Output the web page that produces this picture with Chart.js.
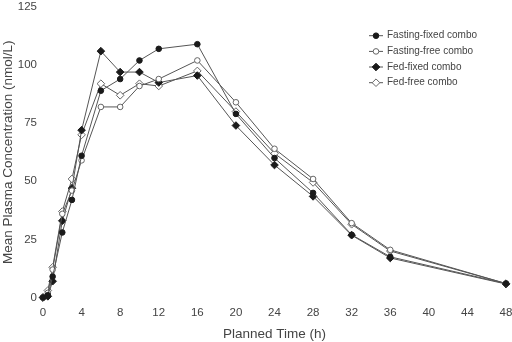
<!DOCTYPE html>
<html>
<head>
<meta charset="utf-8">
<script src="https://cdn.jsdelivr.net/npm/chart.js@4/dist/chart.umd.min.js"></script>
<style>
html,body{margin:0;padding:0;background:#fff;}
#wrap{width:512px;height:342px;}
</style>
</head>
<body>
<div id="wrap"><canvas id="c" width="512" height="342"></canvas></div>
<script>
const times = [0, 0.5, 1, 2, 3, 4, 6, 8, 10, 12, 16, 20, 24, 28, 32, 36, 48];
const fastingFixed = [0, 1, 9, 28, 42, 61, 89, 94, 102, 107, 109, 79, 60, 45, 27, 17.5, 6];
const fastingFree  = [0, 2, 12, 36, 46, 59, 82, 82, 91, 94, 102, 84, 64, 51, 32, 20.5, 6];
const fedFixed     = [0, 0.5, 7, 33, 47, 72, 106, 97, 97, 92.5, 95.5, 74, 57, 43.5, 26.8, 17, 5.8];
const fedFree      = [0, 3, 13, 37, 51, 70, 92, 87, 92, 91, 97.5, 80, 62, 49.5, 31.5, 20, 6];
const seriesNames = ['Fasting-fixed combo', 'Fasting-free combo', 'Fed-fixed combo', 'Fed-free combo'];
const xTicks = [0, 4, 8, 12, 16, 20, 24, 28, 32, 36, 40, 44, 48];
const yTicks = [0, 25, 50, 75, 100, 125];

const lineColor = '#555';
const markColor = '#1a1a1a';
const styles = [
  {pointStyle: 'circle', bg: markColor, r: 2.8},
  {pointStyle: 'circle', bg: '#ffffff', r: 2.8},
  {pointStyle: 'rectRot', bg: markColor, r: 3.8},
  {pointStyle: 'rectRot', bg: '#ffffff', r: 3.8}
];
const seriesData = [fastingFixed, fastingFree, fedFixed, fedFree];
const FONT = '"Liberation Sans", Arial, sans-serif';

const datasets = seriesData.map((vals, i) => ({
  label: seriesNames[i],
  data: times.map((t, j) => ({x: t, y: vals[j]})),
  borderColor: lineColor,
  borderWidth: 1,
  pointStyle: styles[i].pointStyle,
  pointRadius: styles[i].r,
  pointBackgroundColor: styles[i].bg,
  pointBorderColor: i % 2 === 0 ? markColor : '#666',
  pointBorderWidth: 1,
  tension: 0,
  clip: false
}));

const legendPlugin = {
  id: 'customLegend',
  afterDraw(chart) {
    const ctx = chart.ctx;
    const x0 = 369, x1 = 383, tx = 387;
    const ys = [35.7, 51.4, 67, 82.7];
    ctx.save();
    datasets.forEach((ds, i) => {
      const y = ys[i];
      ctx.strokeStyle = lineColor;
      ctx.lineWidth = 1;
      ctx.beginPath();
      ctx.moveTo(x0, y);
      ctx.lineTo(x1, y);
      ctx.stroke();
      ctx.fillStyle = ds.pointBackgroundColor;
      ctx.strokeStyle = ds.pointBorderColor;
      Chart.helpers.drawPoint(ctx, {pointStyle: ds.pointStyle, radius: ds.pointRadius, borderWidth: 1}, (x0 + x1) / 2, y);
      ctx.fillStyle = '#444';
      ctx.font = '10px ' + FONT;
      ctx.textBaseline = 'middle';
      ctx.textAlign = 'left';
      ctx.fillText(ds.label, tx, y);
    });
    ctx.restore();
  }
};

new Chart(document.getElementById('c'), {
  type: 'line',
  data: {datasets},
  options: {
    responsive: false,
    animation: false,
    devicePixelRatio: 1,
    layout: {padding: {top: 7, right: 6, left: 0, bottom: 0}},
    plugins: {legend: {display: false}, tooltip: {enabled: false}},
    scales: {
      x: {
        type: 'linear', min: 0, max: 48,
        afterBuildTicks: (s) => { s.ticks = xTicks.map(v => ({value: v})); },
        grid: {display: false, drawTicks: false},
        border: {display: false},
        ticks: {color: '#444', padding: 8, maxRotation: 0, autoSkip: false,
                font: {family: FONT, size: 11.5}},
        title: {display: true, text: 'Planned Time (h)', color: '#444', padding: {top: 1, bottom: 0},
                font: {family: FONT, size: 13.5}},
        afterFit: (s) => { s.height = 44.5; s.paddingLeft = 0; s.paddingRight = 0; }
      },
      y: {
        type: 'linear', min: 0, max: 125,
        afterBuildTicks: (s) => { s.ticks = yTicks.map(v => ({value: v})); },
        grid: {display: false, drawTicks: false},
        border: {display: false},
        ticks: {color: '#444', padding: 6,
                font: {family: FONT, size: 11.5}},
        title: {display: true, text: 'Mean Plasma Concentration (nmol/L)', color: '#444', padding: 0,
                font: {family: FONT, size: 13.5}},
        afterFit: (s) => { s.width = 43; s.paddingTop = 0; s.paddingBottom = 0; }
      }
    }
  },
  plugins: [legendPlugin]
});
</script>
</body>
</html>
